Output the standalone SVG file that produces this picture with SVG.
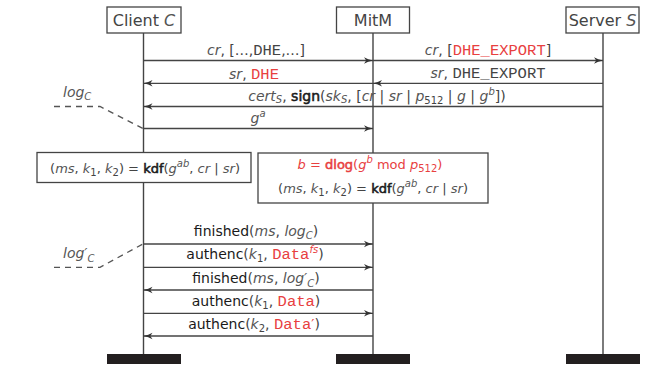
<svg xmlns="http://www.w3.org/2000/svg" width="662" height="391" viewBox="0 0 662 391">
<style>
  text { font-family: "DejaVu Sans", "Liberation Sans", sans-serif; fill: #444; }
  .t { font-size: 14px; text-anchor: middle; }
  .n { font-size: 13px; }
  .h { font-size: 16px; text-anchor: middle; }
  .i { font-style: italic; fill: #555; }
  .b { fill: #1a1a1a; stroke: #1a1a1a; stroke-width: 0.55; }
  .f { fill: #1a1a1a; }
  .m { font-family: "Liberation Mono", "DejaVu Sans Mono", monospace; font-size: 15.5px; }
  .r { fill: #e8403f; }
  .rb { fill: #e8403f; stroke: #e8403f; stroke-width: 0.55; }
  .s { font-size: 10px; }
  .box { fill: #fff; stroke: #444; stroke-width: 1.3; }
  .life { stroke: #444; stroke-width: 1.4; fill: none; }
  .bar { fill: #231f20; }
  .msg { stroke: #444; stroke-width: 1.3; fill: none; marker-end: url(#ah); }
  .dash { stroke: #555; stroke-width: 1.3; fill: none; stroke-dasharray: 6 5; }
</style>
<defs>
  <marker id="ah" markerUnits="userSpaceOnUse" markerWidth="10" markerHeight="8" refX="9" refY="4" orient="auto">
    <path d="M0,0.8 Q4,3 9,4 Q4,5 0,7.2 L2.2,4 z" fill="#333"/>
  </marker>
</defs>

<g id="client">
  <line class="life" x1="143.5" y1="33" x2="143.5" y2="354"/>
  <rect class="box" x="107" y="7" width="74" height="26"/>
  <text class="h" x="144" y="26">Client <tspan class="i" fill="#444">C</tspan></text>
  <rect class="bar" x="107" y="354" width="74" height="10"/>
</g>
<g id="mitm">
  <line class="life" x1="373" y1="33" x2="373" y2="354"/>
  <rect class="box" x="336.5" y="7" width="73" height="26"/>
  <text class="h" x="373" y="26">MitM</text>
  <rect class="bar" x="336" y="354" width="74" height="10"/>
</g>
<g id="server">
  <line class="life" x1="603" y1="33" x2="603" y2="354"/>
  <rect class="box" x="566" y="7" width="73" height="26"/>
  <text class="h" x="602.5" y="26">Server <tspan class="i" fill="#444">S</tspan></text>
  <rect class="bar" x="566" y="354" width="74" height="10"/>
</g>

<g id="connectors">
  <line class="msg" x1="143.5" y1="60.5" x2="373" y2="60.5"/>
  <line class="msg" x1="373" y1="60.5" x2="603" y2="60.5"/>
  <line class="msg" x1="603" y1="83.3" x2="373" y2="83.3"/>
  <line class="msg" x1="373" y1="83.3" x2="143.5" y2="83.3"/>
  <line class="msg" x1="603" y1="106.5" x2="143.5" y2="106.5"/>
  <line class="msg" x1="143.5" y1="128.5" x2="373" y2="128.5"/>
  <line class="msg" x1="143.5" y1="244" x2="373" y2="244"/>
  <line class="msg" x1="143.5" y1="267.3" x2="373" y2="267.3"/>
  <line class="msg" x1="373" y1="290" x2="143.5" y2="290"/>
  <line class="msg" x1="143.5" y1="313.3" x2="373" y2="313.3"/>
  <line class="msg" x1="373" y1="336" x2="143.5" y2="336"/>
  <path class="dash" d="M54,106.5 L100,106.5 L143,128.5"/>
  <path class="dash" d="M54,267.3 L100,267.3 L143,244"/>

  <text class="t" x="256" y="55"><tspan class="i">cr</tspan>, [&#8230;,<tspan class="m">DHE</tspan>,&#8230;]</text>
  <text class="t" x="488" y="55"><tspan class="i">cr</tspan>, [<tspan class="m r">DHE_EXPORT</tspan>]</text>
  <text class="t" x="254" y="79"><tspan class="i">sr</tspan>, <tspan class="m r">DHE</tspan></text>
  <text class="t" x="488" y="78"><tspan class="i">sr</tspan>, <tspan class="m">DHE_EXPORT</tspan></text>
  <text class="t" x="377" y="101"><tspan class="i">cert</tspan><tspan class="i s" baseline-shift="-2">S</tspan>, <tspan class="b">sign</tspan>(<tspan class="i">sk</tspan><tspan class="i s" baseline-shift="-2">S</tspan>, [<tspan class="i">cr</tspan> | <tspan class="i">sr</tspan> | <tspan class="i">p</tspan><tspan class="s" baseline-shift="-3">512</tspan> | <tspan class="i">g</tspan> | <tspan class="i">g</tspan><tspan class="i s" baseline-shift="6">b</tspan>])</text>
  <text class="t" x="258" y="123"><tspan class="i">g</tspan><tspan class="i s" baseline-shift="6">a</tspan></text>
  <text x="63" y="97" font-size="14"><tspan class="i">log</tspan><tspan class="i s" baseline-shift="-3">C</tspan></text>
  <text x="63" y="258" font-size="14"><tspan class="i">log&#8242;</tspan><tspan class="i s" baseline-shift="-4">C</tspan></text>

  <text class="t" x="256" y="236"><tspan class="f">finished</tspan>(<tspan class="i">ms</tspan>, <tspan class="i">log</tspan><tspan class="i s" baseline-shift="-3">C</tspan>)</text>
  <text class="t" x="255" y="259"><tspan class="f">authenc</tspan>(<tspan class="i">k</tspan><tspan class="s" baseline-shift="-3">1</tspan>, <tspan class="m r">Data</tspan><tspan class="i s r" baseline-shift="6">fs</tspan>)</text>
  <text class="t" x="256" y="283"><tspan class="f">finished</tspan>(<tspan class="i">ms</tspan>, <tspan class="i">log&#8242;</tspan><tspan class="i s" baseline-shift="-4">C</tspan>)</text>
  <text class="t" x="256" y="306"><tspan class="f">authenc</tspan>(<tspan class="i">k</tspan><tspan class="s" baseline-shift="-3">1</tspan>, <tspan class="m r">Data</tspan>)</text>
  <text class="t" x="254" y="329"><tspan class="f">authenc</tspan>(<tspan class="i">k</tspan><tspan class="s" baseline-shift="-3">2</tspan>, <tspan class="m r">Data</tspan><tspan class="r">&#8242;</tspan>)</text>
</g>

<g id="client-kdf">
  <rect class="box" x="37" y="152.5" width="214" height="30"/>
  <text class="t n" x="145" y="173">(<tspan class="i">ms</tspan>, <tspan class="i">k</tspan><tspan class="s" baseline-shift="-3">1</tspan>, <tspan class="i">k</tspan><tspan class="s" baseline-shift="-3">2</tspan>) = <tspan class="b">kdf</tspan>(<tspan class="i">g</tspan><tspan class="i s" baseline-shift="6">ab</tspan>, <tspan class="i">cr</tspan> | <tspan class="i">sr</tspan>)</text>
</g>
<g id="mitm-dlog">
  <rect class="box" x="258" y="153" width="230" height="50"/>
  <text class="t n r" x="370" y="169"><tspan class="i r">b</tspan> = <tspan class="rb">dlog</tspan>(<tspan class="i r">g</tspan><tspan class="i s r" baseline-shift="6">b</tspan> mod <tspan class="i r">p</tspan><tspan class="s r" baseline-shift="-3">512</tspan>)</text>
  <text class="t n" x="373" y="193">(<tspan class="i">ms</tspan>, <tspan class="i">k</tspan><tspan class="s" baseline-shift="-3">1</tspan>, <tspan class="i">k</tspan><tspan class="s" baseline-shift="-3">2</tspan>) = <tspan class="b">kdf</tspan>(<tspan class="i">g</tspan><tspan class="i s" baseline-shift="6">ab</tspan>, <tspan class="i">cr</tspan> | <tspan class="i">sr</tspan>)</text>
</g>
</svg>
